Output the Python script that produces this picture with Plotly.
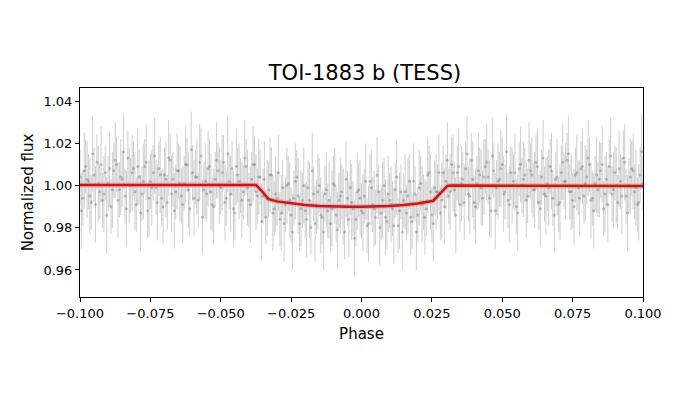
import plotly.graph_objects as go

# Phase-folded TESS light curve of TOI-1883 b
fase_a = [round(-0.100 + 0.001 * i, 4) for i in range(201)]
fluxo_a = [
    1.004, 0.994, 1.009, 1.002, 0.992, 1.005, 1.011, 0.997, 0.993, 1.006,
    1.001, 0.990, 1.007, 1.010, 0.998, 1.003, 0.995, 1.013, 1.000, 1.008,
    0.991, 1.004, 0.996, 1.009, 0.988, 1.002, 1.006, 0.999, 1.008, 0.994,
    1.005, 0.992, 1.012, 1.003, 0.997, 1.007, 0.995, 1.001, 1.010, 0.989,
    1.006, 1.004, 0.993, 1.014, 0.998, 0.996, 1.009, 0.991, 1.003, 1.007,
    0.999, 1.011, 0.994, 1.002, 1.008, 0.987, 1.005, 1.000, 0.997, 1.009,
    0.993, 1.003, 1.010, 0.995, 1.004, 0.995, 0.985, 0.998, 1.005, 0.989,
    0.994, 0.984, 0.999, 0.991, 1.001, 0.986, 0.994, 1.004, 0.982, 0.993,
    0.988, 0.999, 0.980, 0.996, 0.990, 1.000, 0.985, 0.996, 0.988, 0.982,
    1.001, 0.986, 0.993, 0.997, 0.978, 0.994, 0.999, 0.989, 0.984, 0.998,
    0.988, 0.995, 0.981, 1.002, 0.991, 0.985, 0.997, 0.987, 1.000, 0.983,
    0.993, 0.989, 0.998, 0.981, 0.997, 0.993, 0.987, 1.002, 0.983, 0.996,
    0.986, 1.001, 0.992, 0.989, 1.006, 0.986, 0.999, 0.997, 0.987, 1.006,
    1.002, 0.995, 1.010, 0.998, 1.006, 0.991, 1.003, 1.008, 0.996, 1.012,
    0.992, 1.001, 1.005, 0.994, 1.009, 1.004, 0.988, 1.007, 0.999, 1.003,
    1.010, 0.997, 0.993, 1.006, 1.002, 0.990, 1.008, 1.000, 1.005, 0.995,
    1.007, 0.998, 1.011, 0.992, 1.004, 0.996, 1.001, 1.009, 0.994, 1.003,
    0.991, 1.006, 1.002, 1.012, 0.997, 0.993, 1.005, 0.999, 1.008, 0.995,
    1.004, 1.010, 0.994, 1.001, 0.998, 1.007, 0.989, 1.003, 1.009, 0.996,
    1.006, 0.992, 1.002, 1.013, 0.995, 1.000, 1.008, 0.997, 0.991, 1.005,
    1.001,
]

fase_b = [round(-0.0995 + 0.001 * j, 4) for j in range(200)]
fluxo_b = [
    0.988, 1.007, 1.003, 0.995, 1.015, 0.991, 1.001, 1.010, 0.996, 0.986,
    1.008, 0.998, 1.012, 0.993, 1.004, 1.016, 0.989, 1.000, 1.006, 0.997,
    1.009, 0.987, 1.002, 1.011, 0.994, 0.999, 1.014, 0.992, 1.005, 0.990,
    1.003, 1.013, 0.996, 0.988, 1.007, 1.001, 0.991, 1.010, 0.998, 1.017,
    0.994, 1.004, 1.011, 0.985, 1.002, 1.008, 0.997, 0.990, 1.012, 1.000,
    1.006, 0.992, 1.015, 0.996, 0.989, 1.009, 1.002, 0.993, 1.013, 0.999,
    0.991, 1.010, 0.997, 1.004, 0.983, 1.003, 0.994, 1.005, 0.987, 0.996,
    1.006, 0.987, 0.982, 1.000, 0.993, 0.978, 1.002, 0.995, 0.989, 1.000,
    0.984, 0.993, 1.007, 0.982, 0.997, 0.986, 0.978, 0.998, 0.993, 0.989,
    1.000, 0.979, 0.995, 0.990, 1.003, 0.984, 0.992, 0.975, 0.997, 0.994,
    0.987, 1.002, 0.982, 0.999, 0.989, 1.005, 0.980, 0.993, 0.985, 0.996,
    0.991, 0.981, 1.004, 0.988, 0.978, 0.997, 0.995, 0.985, 1.002, 0.978,
    0.999, 0.991, 0.985, 1.005, 0.997, 0.982, 0.997, 1.006, 0.993, 0.990,
    1.012, 0.997, 1.006, 0.986, 1.009, 1.001, 0.992, 1.015, 0.995, 1.003,
    0.990, 1.007, 0.999, 1.004, 1.011, 0.994, 1.014, 0.988, 1.002, 1.008,
    0.996, 1.016, 0.991, 1.000, 1.006, 0.987, 1.010, 1.003, 0.993, 1.012,
    1.005, 0.998, 1.009, 0.989, 1.013, 0.995, 0.999, 1.007, 0.986, 1.004,
    0.992, 1.011, 1.002, 1.015, 0.997, 0.990, 1.006, 0.994, 1.009, 1.001,
    1.013, 0.993, 0.988, 1.005, 1.003, 1.010, 0.996, 0.991, 1.014, 0.998,
    1.000, 1.008, 0.995, 1.011, 0.987, 1.004, 1.007, 0.999, 0.992, 1.016,
]
erro_a = 0.013
erro_b = 0.018

# Transit model curve
fase_modelo = [-0.100, -0.0375, -0.0355, -0.0330, -0.030, -0.025, -0.020, -0.015,
               -0.010, -0.005, 0.000, 0.005, 0.010, 0.015, 0.020, 0.0255,
               0.028, 0.0305, 0.032, 0.100]
fluxo_modelo = [1.0003, 1.0003, 0.9975, 0.9935, 0.9925, 0.9915, 0.9908, 0.9903,
                0.9900, 0.9899, 0.9899, 0.9900, 0.9903, 0.9908, 0.9915, 0.9928,
                0.9965, 0.9998, 1.0000, 0.9998]

ticks_x = [-0.100, -0.075, -0.050, -0.025, 0.000, 0.025, 0.050, 0.075, 0.100]
rotulos_x = ["\u22120.100", "\u22120.075", "\u22120.050", "\u22120.025", "0.000",
             "0.025", "0.050", "0.075", "0.100"]
ticks_y = [0.96, 0.98, 1.00, 1.02, 1.04]
rotulos_y = ["0.96", "0.98", "1.00", "1.02", "1.04"]

fig = go.Figure()

fig.add_trace(go.Scatter(
    x=fase_a + fase_b, y=fluxo_a + fluxo_b,
    mode='markers',
    marker=dict(color='rgba(100,100,100,0.38)', size=3, line=dict(width=0)),
    error_y=dict(type='data',
                 array=[erro_a] * len(fluxo_a) + [erro_b] * len(fluxo_b),
                 color='rgba(110,110,110,0.34)', thickness=1, width=0),
    showlegend=False, hoverinfo='skip'
))

# halo + linha do modelo
fig.add_trace(go.Scatter(
    x=fase_modelo, y=fluxo_modelo, mode='lines',
    line=dict(color='rgba(240,110,110,0.4)', width=5),
    showlegend=False, hoverinfo='skip'
))
fig.add_trace(go.Scatter(
    x=fase_modelo, y=fluxo_modelo, mode='lines',
    line=dict(color='#c41a1a', width=2.5),
    showlegend=False
))

eixo = dict(showline=True, linecolor='black', linewidth=1, mirror=True,
            ticks='outside', ticklen=4, tickcolor='black', showgrid=False,
            zeroline=False, tickfont=dict(size=13, color='black'))

fig.update_layout(
    width=700, height=400,
    margin=dict(l=72, r=65, t=80, b=111),
    paper_bgcolor='white', plot_bgcolor='white',
    font=dict(family='DejaVu Sans', color='black'),
    title=dict(text='TOI-1883 b (TESS)', x=0.51, xanchor='center',
               y=0.838, yanchor='middle', font=dict(size=21)),
    xaxis=dict(eixo, range=[-0.100, 0.100], tickvals=ticks_x, ticktext=rotulos_x,
               title=dict(text='Phase', font=dict(size=15), standoff=8)),
    yaxis=dict(eixo, range=[0.9472, 1.0462], tickvals=ticks_y, ticktext=rotulos_y,
               title=dict(text='Normalized flux', font=dict(size=15), standoff=6)),
)

fig.write_html("out.html")
